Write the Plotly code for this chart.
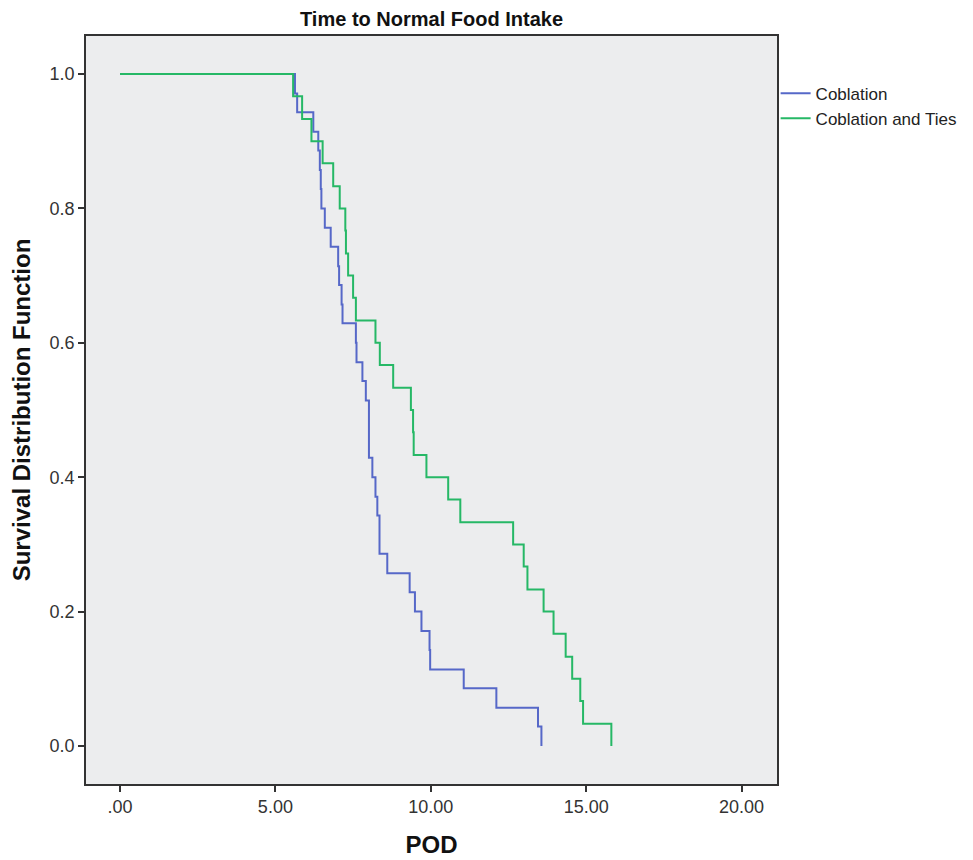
import plotly.graph_objects as go

# Coblation (n=35): step times (POD) and survival after each step
blue_t = [0.0, 5.63, 5.70, 6.22, 6.38, 6.43, 6.46, 6.48, 6.59, 6.78, 7.02, 7.05, 7.13, 7.16,
          7.59, 7.61, 7.80, 7.91, 8.01, 8.12, 8.22, 8.28, 8.35, 8.60, 9.32, 9.49, 9.70,
          9.96, 9.98, 11.06, 12.11, 13.45, 13.56]
blue_s = [1.000, 0.971, 0.943, 0.914, 0.886, 0.857, 0.829, 0.800, 0.771, 0.743, 0.714, 0.686,
          0.657, 0.629, 0.600, 0.571, 0.543, 0.514, 0.429, 0.400, 0.371, 0.343, 0.286, 0.257,
          0.229, 0.200, 0.171, 0.143, 0.114, 0.086, 0.057, 0.029, 0.000]

# Coblation and Ties (n=30)
green_t = [0.0, 5.57, 5.86, 6.16, 6.52, 6.86, 7.07, 7.25, 7.27, 7.34, 7.50, 7.59, 8.22, 8.36,
           8.79, 9.36, 9.43, 9.45, 9.86, 10.56, 10.95, 12.65, 12.99, 13.11, 13.63, 13.95,
           14.34, 14.55, 14.81, 14.90, 15.81]
green_s = [1.000, 0.967, 0.933, 0.900, 0.867, 0.833, 0.800, 0.767, 0.733, 0.700, 0.667, 0.633,
           0.600, 0.567, 0.533, 0.500, 0.467, 0.433, 0.400, 0.367, 0.333, 0.300, 0.267, 0.233,
           0.200, 0.167, 0.133, 0.100, 0.067, 0.033, 0.000]

x_ticks = [0, 5, 10, 15, 20]
x_labels = [".00", "5.00", "10.00", "15.00", "20.00"]
y_ticks = [0.0, 0.2, 0.4, 0.6, 0.8, 1.0]
y_labels = ["0.0", "0.2", "0.4", "0.6", "0.8", "1.0"]

FONT = "Liberation Sans, Arial, sans-serif"

L, T, PW, PH = 78, 28, 691, 748

fig = go.Figure()
fig.add_trace(go.Scatter(x=blue_t, y=blue_s, mode="lines", line_shape="hv",
                         line=dict(color="#5668C8", width=2), name="Coblation"))
fig.add_trace(go.Scatter(x=green_t, y=green_s, mode="lines", line_shape="hv",
                         line=dict(color="#26B866", width=2), name="Coblation and Ties"))

fig.update_layout(
    width=973, height=860,
    margin=dict(l=L, r=973 - L - PW, t=T, b=860 - T - PH, autoexpand=False),
    paper_bgcolor="white",
    plot_bgcolor="#ECEDEE",
    font=dict(family=FONT, size=18, color="#222"),
    title=dict(text="<b>Time to Normal Food Intake</b>", x=(L + PW / 2) / 973, xanchor="center",
               y=1 - 11 / 860, yanchor="middle", font=dict(size=20, color="#111")),
    legend=dict(x=0.998, xanchor="left", y=0.947, yanchor="top", bgcolor="rgba(0,0,0,0)",
                font=dict(size=17, color="#222"), tracegroupgap=0, itemwidth=30),
    showlegend=True,
)
fig.update_xaxes(range=[-1.094, 21.14], tickvals=x_ticks, ticktext=x_labels,
                 showgrid=False, zeroline=False, showline=True, mirror=True,
                 linecolor="#333", linewidth=1.5, ticks="outside", ticklen=6,
                 tickcolor="#333", tickwidth=1.5,
                 tickfont=dict(size=18, color="#333"),
                 title=dict(text="<b>POD</b>", font=dict(size=24, color="#111"), standoff=20))
fig.update_yaxes(range=[-0.0565, 1.0565], tickvals=y_ticks, ticktext=y_labels,
                 showgrid=False, zeroline=False, showline=True, mirror=True,
                 linecolor="#333", linewidth=1.5, ticks="outside", ticklen=6,
                 tickcolor="#333", tickwidth=1.5,
                 tickfont=dict(size=18, color="#333"),
                 title=dict(text="<b>Survival Distribution Function</b>",
                            font=dict(size=24, color="#111"), standoff=14))

fig.write_html("out.html")
